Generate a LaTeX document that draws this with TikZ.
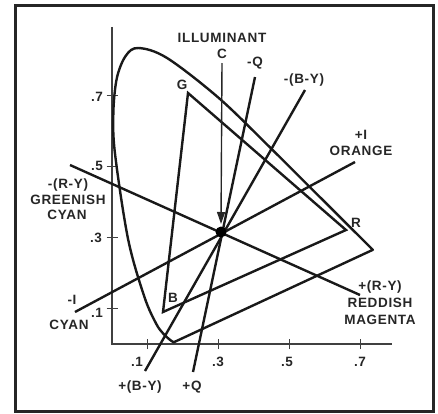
\documentclass[tikz,border=0pt]{standalone}
\usepackage{fontspec}
\setmainfont{Liberation Sans}
\newfontfamily\lblfont[LetterSpace=5]{Liberation Sans}
\usetikzlibrary{arrows.meta}
\begin{document}
\begin{tikzpicture}[x=1pt,y=-1pt,
  lbl/.style={font=\lblfont\bfseries\fontsize{13.5}{15}\selectfont, inner sep=0pt, align=center, text=black!85},
  thk/.style={line width=2.4pt, line join=round, black!90},
  ax/.style={line width=1.4pt, black!75}]
\useasboundingbox (0,0) rectangle (438,413);
\draw[line width=3pt, black!85] (15,5) rectangle (433,411);
% chromaticity scope
\begin{scope}[shift={(112,344)}, x=355pt, y=355pt]
  \draw[ax] (0,0.893) -- (0,0) -- (0.79,0);
  \foreach \v in {0.1,0.3,0.5,0.7} {
    \draw[ax] ([xshift=-5.5pt]0,\v) -- ([xshift=5.5pt]0,\v);
    \draw[ax] ([yshift=-5pt]\v,0) -- ([yshift=5pt]\v,0);
  }
  \draw[thk] plot[smooth, tension=0.55] coordinates {
    (0.1741,0.0050) (0.1644,0.0109) (0.1440,0.0297) (0.1241,0.0578)
    (0.0913,0.1327) (0.0454,0.2950) (0.0082,0.5384) (0.0039,0.6548)
    (0.0139,0.7502) (0.0389,0.8120) (0.0743,0.8338) (0.1547,0.8059)
    (0.3016,0.6923) (0.4441,0.5547) (0.5752,0.4242) (0.6658,0.3340)
    (0.7190,0.2809) (0.7347,0.2653)} -- cycle;
\end{scope}
% tick labels
\node[lbl] (y7) at (97,97) {.7};
\node[lbl] (y5) at (97,166) {.5};
\node[lbl] (y3) at (96,238) {.3};
\node[lbl] (y1) at (97,313) {.1};
\node[lbl] (x1) at (137,362) {.1};
\node[lbl] (x3) at (218,362) {.3};
\node[lbl] (x5) at (287,362) {.5};
\node[lbl] (x7) at (360,362) {.7};
% primaries triangle
\coordinate (G) at (188,93);
\coordinate (R) at (346,230);
\coordinate (B) at (163,312);
\draw[thk, line join=miter] (G) -- (R) -- (B) -- cycle;
% illuminant C
\coordinate (C) at (221,232);
\coordinate (mRY) at (70,165);
\coordinate (pRY) at (360,295);
\coordinate (mI) at (75,312);
\coordinate (pI) at (355,162);
\coordinate (mQ) at (255,77);
\coordinate (pQ) at (193,372);
\coordinate (mBY) at (305,90);
\coordinate (pBY) at (145,371);
\draw[thk] (mRY) -- (pRY);
\draw[thk] (mI) -- (pI);
\draw[thk] (mQ) -- (pQ);
\draw[thk] (mBY) -- (pBY);
\coordinate (Ctop) at (222,63);
\coordinate (Ctip) at (221,224);
\draw[line width=1.4pt, black!85, -{Triangle[length=12pt, width=8pt]}] (Ctop) -- (Ctip);
\fill[black] (C) circle (5.5pt);
% labels
\node[lbl] (tIll) at (222,38) {ILLUMINANT};
\node[lbl] (tC) at (222,54) {C};
\node[lbl] (tmQ) at (255,63) {-Q};
\node[lbl] (tmBY) at (304,80) {-(B-Y)};
\node[lbl] (tpI) at (361,135) {+I};
\node[lbl] (tOr) at (361,151) {ORANGE};
\node[lbl] (tmRY) at (68,185) {-(R-Y)};
\node[lbl] (tGr) at (68,200) {GREENISH};
\node[lbl] (tCy1) at (67,215) {CYAN};
\node[lbl] (tmI) at (72,300) {-I};
\node[lbl] (tCy2) at (69,325) {CYAN};
\node[lbl] (tpBY) at (140,387) {+(B-Y)};
\node[lbl] (tpQ) at (192,387) {+Q};
\node[lbl] (tR) at (356,223) {R};
\node[lbl] (tG) at (182,85) {G};
\node[lbl] (tB) at (173,298) {B};
\node[lbl] (tpRY) at (380,287) {+(R-Y)};
\node[lbl] (tRd) at (380,303) {REDDISH};
\node[lbl] (tMg) at (380,320) {MAGENTA};
\end{tikzpicture}
\end{document}
